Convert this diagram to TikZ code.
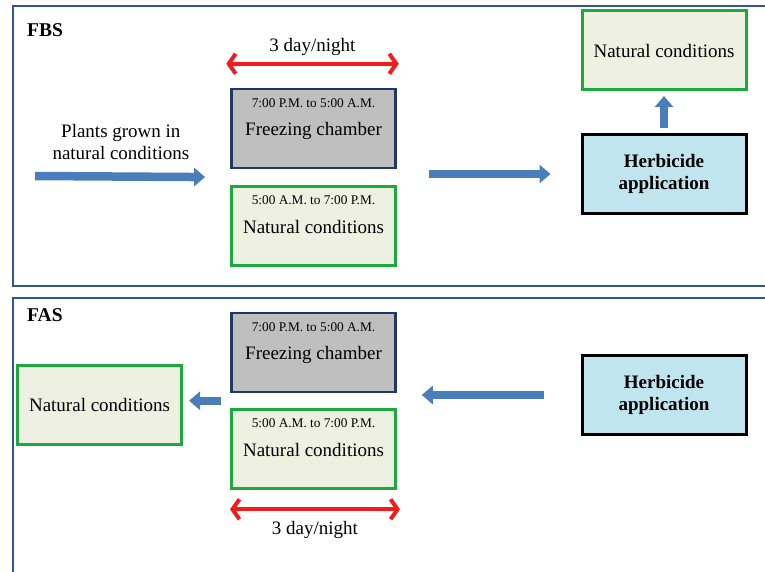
\documentclass[tikz,border=0pt]{standalone}
\usepackage{fontspec}
\setmainfont{Liberation Serif}
\usepackage{tikz}
\usetikzlibrary{positioning}
\usetikzlibrary{arrows.meta}
\usetikzlibrary{calc}
\definecolor{panelblue}{HTML}{2F5597}
\definecolor{arrowblue}{HTML}{4A7EBB}
\definecolor{nightgray}{HTML}{BFBFBF}
\definecolor{nightedge}{HTML}{1F3864}
\definecolor{daygreen}{HTML}{1DAA3C}
\definecolor{dayfill}{HTML}{EEF1E1}
\definecolor{sprayfill}{HTML}{C0E5EE}
\definecolor{spanred}{HTML}{F21C1C}
\newcommand{\bigtext}{\fontsize{19}{22}\selectfont}
\tikzset{
    x=1pt, y=1pt,
    node distance=16pt, % gap between the stacked boxes
    box/.style={ % common size of every box
        rectangle,
        minimum width=164pt,
        minimum height=79pt,
        font=\bigtext,
        text height=19pt, text depth=5pt
    },
    nightbox/.style={box, draw=nightedge, line width=2.5pt, fill=nightgray},
    daybox/.style={box, draw=daygreen, line width=3pt, fill=dayfill},
    spraybox/.style={ % herbicide boxes
        box, draw=black, line width=3pt, fill=sprayfill,
        align=center, font=\bigtext\bfseries,
        text height=, text depth=
    },
    hours/.style={ % small time line at the top of a box
        label={[anchor=north, yshift=-11pt, inner sep=0pt,
                font=\fontsize{13.3}{15}\selectfont, text height=8.5pt]north:#1}
    },
    panel/.style={draw=panelblue, line width=2pt},
    fatarrow/.style={ % blue block arrows
        draw=arrowblue, line width=8.5pt,
        -{Triangle[length=11pt, width=18pt]}
    },
    spanarrow/.style={ % red double arrows
        draw=spanred, line width=4pt,
        {Straight Barb[length=7pt, width=20pt]}-{Straight Barb[length=7pt, width=20pt]}
    }
}

\begin{document}
\begin{tikzpicture}
    \useasboundingbox (0,0) rectangle (765,-571);
    \clip (0,0) rectangle (765,-571);

    % panels
    \draw[panel] (12.5,-6) rectangle (790,-285.5);
    \draw[panel] (12.5,-298) rectangle (790,-620);
    \node[anchor=base west, font=\fontsize{19.5}{22}\selectfont\bfseries, inner sep=0pt] (fbs) at (27,-36.5) {FBS};
    \node[anchor=base west, font=\fontsize{19.5}{22}\selectfont\bfseries, inner sep=0pt] (fas) at (27,-321.5) {FAS};

    % FBS
    \node[nightbox, hours={7:00 P.M. to 5:00 A.M.}] (fc1) at (313.5,-128.5) {Freezing chamber};
    \node[daybox, hours={5:00 A.M. to 7:00 P.M.}, below=of fc1] (nc1) {Natural conditions};
    \node[spraybox] (herb1) at (664,-174) {Herbicide\\application};
    \node[daybox, above=42pt of herb1] (ncr) {Natural conditions};

    \coordinate (grown) at (35,-176);
    \coordinate (pair1) at ($(fc1.south west)!0.5!(nc1.north west)$);
    \draw[fatarrow, shorten >=25pt] (grown) -- (pair1)
        node[pos=0.44, above=9pt, align=center, font=\bigtext] {Plants grown in\\natural conditions};
    \draw[fatarrow, shorten <=32pt, shorten >=30pt] (herb1.west -| fc1.east) -- (herb1.west);
    \draw[fatarrow, shorten <=5pt, shorten >=5pt] (herb1.north) -- (ncr.south);
    \draw[spanarrow] ([xshift=-4pt, yshift=24pt]fc1.north west) -- ([xshift=2pt, yshift=24pt]fc1.north east)
        node[midway, above=3pt, font=\bigtext] {3 day/night};

    % FAS
    \node[nightbox, hours={7:00 P.M. to 5:00 A.M.}] (fc2) at (313.5,-352.5) {Freezing chamber};
    \node[daybox, hours={5:00 A.M. to 7:00 P.M.}, below=15pt of fc2] (nc2) {Natural conditions};
    \node[spraybox] (herb2) at (664,-395) {Herbicide\\application};
    \node[daybox] (ncl) at (99.5,-404.5) {Natural conditions};

    \coordinate (pair2) at ($(fc2.south west)!0.5!(nc2.north west)$);
    \draw[fatarrow, shorten <=37pt, shorten >=25pt] (herb2.west) -- (herb2.west -| fc2.east);
    \draw[fatarrow, shorten <=9pt, shorten >=6pt] (pair2) -- (pair2 -| ncl.east);
    \draw[spanarrow] ([yshift=-19pt]nc2.south west) -- ([xshift=3pt, yshift=-19pt]nc2.south east)
        node[midway, below=7pt, font=\bigtext] {3 day/night};
\end{tikzpicture}
\end{document}
